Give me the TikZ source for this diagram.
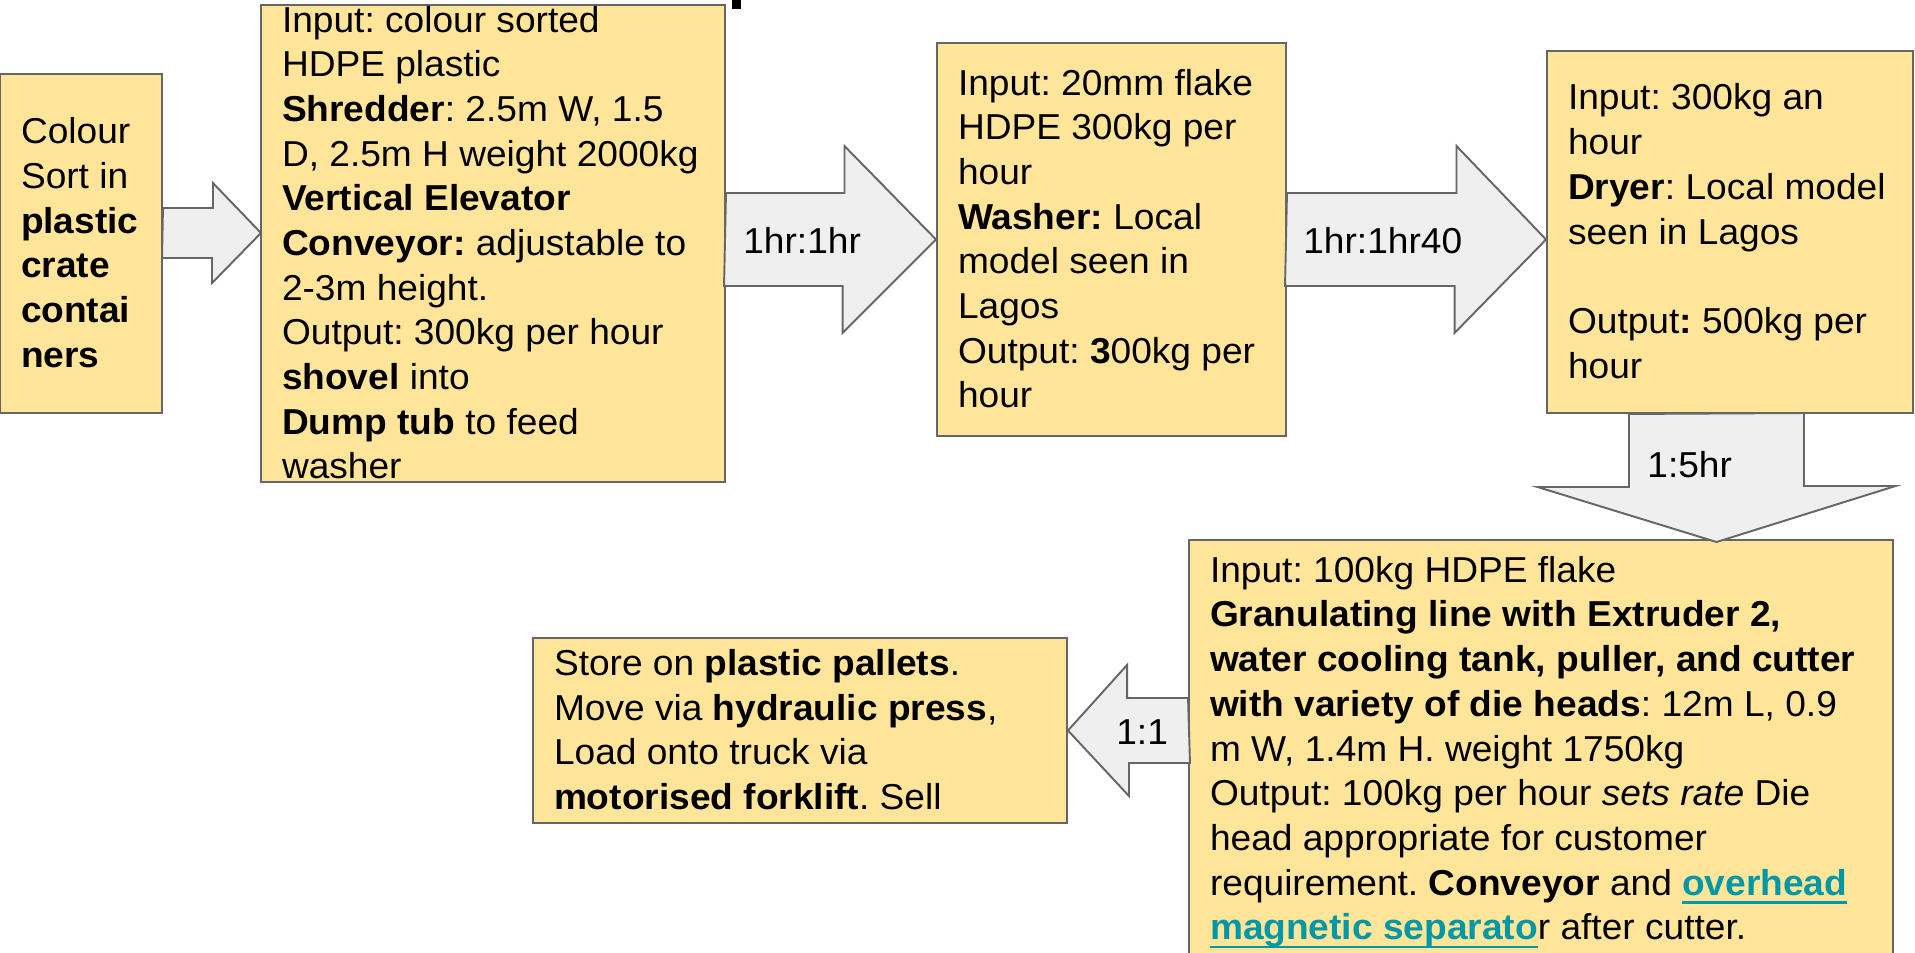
\documentclass[tikz,border=0pt]{standalone}
\usepackage{fontspec}
\setmainfont{Liberation Sans}[FakeStretch=1.03]
\usepackage{tikz}
\usetikzlibrary{calc}
\frenchspacing
\definecolor{boxyellow}{HTML}{FFE599}
\definecolor{arrowgrey}{HTML}{EFEFEF}
\definecolor{edgegrey}{HTML}{666666}
\definecolor{linkteal}{HTML}{0097A7}
\newcommand{\linestrut}{\rule[-0.207cm]{0pt}{0.894cm}}
\newcommand{\weblink}[1]{\textcolor{linkteal}{\setbox0=\hbox{\textbf{#1}}\rlap{\rule[-0.17cm]{\wd0}{0.05cm}}\box0}}
\tikzset{
    txt/.style={font=\fontsize{20.5pt}{25.43pt}\selectfont},
    stage/.style={txt, draw=edgegrey, fill=boxyellow, line width=1.1pt, align=left,
        inner xsep=0.42cm, inner ysep=0pt,
        execute at begin node={\spaceskip=0pt\xspaceskip=0pt\linestrut},
        execute at end node=\linestrut},
    flow/.style={draw=edgegrey, fill=arrowgrey, line width=1.1pt, line join=miter},
    rate/.style={txt, inner sep=0pt, anchor=west}
}

\begin{document}
\begin{tikzpicture}[]
    \useasboundingbox (0,0) rectangle (38.3,-19.04);
    \clip (0,0) rectangle (38.3,-19.04);
    % piece of the title above the page
    \fill (14.64,0) rectangle (14.82,-0.18);
    % stages
    \node[stage, text width=2.40cm, minimum height=6.78cm] at (1.62,-4.87) (colsort)
        {Colour\\Sort in\\\textbf{plastic}\\\textbf{crate}\\\textbf{contai}\\\textbf{ners}};
    \node[stage, text width=8.44cm, minimum height=9.54cm, inner ysep=-0.2cm] at (9.86,-4.87) (shred)
        {Input: colour sorted\\HDPE plastic\\\textbf{Shredder}: 2.5m W, 1.5\\D, 2.5m H weight 2000kg\\\textbf{Vertical Elevator}\\\textbf{Conveyor:} adjustable to\\2-3m height.\\Output: 300kg per hour\\\textbf{shovel} into\\\textbf{Dump tub} to feed\\washer};
    \node[stage, text width=6.14cm, minimum height=7.86cm] at (22.23,-4.79) (wash)
        {Input: 20mm flake\\HDPE 300kg per\\hour\\\textbf{Washer:} Local\\model seen in\\Lagos\\Output: \textbf{3}00kg per\\hour};
    \node[stage, text width=6.48cm, minimum height=7.24cm] at (34.60,-4.64) (dryer)
        {Input: 300kg an\\hour\\\textbf{Dryer}: Local model\\seen in Lagos\\\mbox{}\\Output\textbf{:} 500kg per\\hour};
    \node[stage, text width=13.24cm, minimum height=8.36cm] at (30.82,-14.98) (gran)
        {Input: 100kg HDPE flake\\\textbf{Granulating line with Extruder 2,}\\\textbf{water cooling tank, puller, and cutter}\\\textbf{with variety of die heads}: 12m L, 0.9\\m W, 1.4m H. weight 1750kg\\Output: 100kg per hour \textit{sets rate} Die\\head appropriate for customer\\requirement. \textbf{Conveyor} and \weblink{overhead}\\\weblink{magnetic separato}r after cutter.};
    \node[stage, text width=9.84cm, minimum height=3.70cm] at (16.00,-14.61) (pallet)
        {Store on \textbf{plastic pallets}.\\Move via \textbf{hydraulic press},\\Load onto truck via\\\textbf{motorised forklift}. Sell};
    % block arrows
    \coordinate (t1) at (5.22,-4.66);
    \coordinate (t4) at (34.33,-10.84);
    \draw[flow] (colsort.east |- t1) ++(0,0.5) -- ++(1.0,0) -- ++(0,0.5) -- (t1)
        -- ++(-0.98,-1.0) -- ++(0,0.5) -- ++(-1.0,0) -- cycle;
    \draw[flow] (shred.east |- wash.west) ++(0,0.93) -- ++(2.37,0) -- ++(0,0.94) -- (wash.west)
        -- ++(-1.87,-1.87) -- ++(0,0.94) -- ++(-2.37,0) -- cycle;
    \draw[flow] (wash.east) ++(0,0.93) -- ++(3.39,0) -- ++(0,0.94) -- (dryer.west |- wash.east)
        -- ++(-1.83,-1.87) -- ++(0,0.94) -- ++(-3.39,0) -- cycle;
    \draw[flow] (t4 |- dryer.south) ++(-1.75,0) -- ++(0,-1.46) -- ++(-1.83,0) -- (t4)
        -- ++(3.58,1.12) -- ++(-1.83,0) -- ++(0,1.46) -- cycle;
    \draw[flow] (gran.west |- pallet.east) ++(0,0.65) -- ++(-1.22,0) -- ++(0,0.66) -- (pallet.east)
        -- ++(1.22,-1.31) -- ++(0,0.66) -- ++(1.22,0) -- cycle;
    % rates
    \node[rate] at (14.86,-4.81) (r12) {1hr:1hr};
    \node[rate] at (26.06,-4.81) (r23) {1hr:1hr40};
    \node[rate] at (32.94,-9.30) (r34) {1:5hr};
    \node[rate] at (22.32,-14.64) (r45) {1:1};
\end{tikzpicture}
\end{document}
